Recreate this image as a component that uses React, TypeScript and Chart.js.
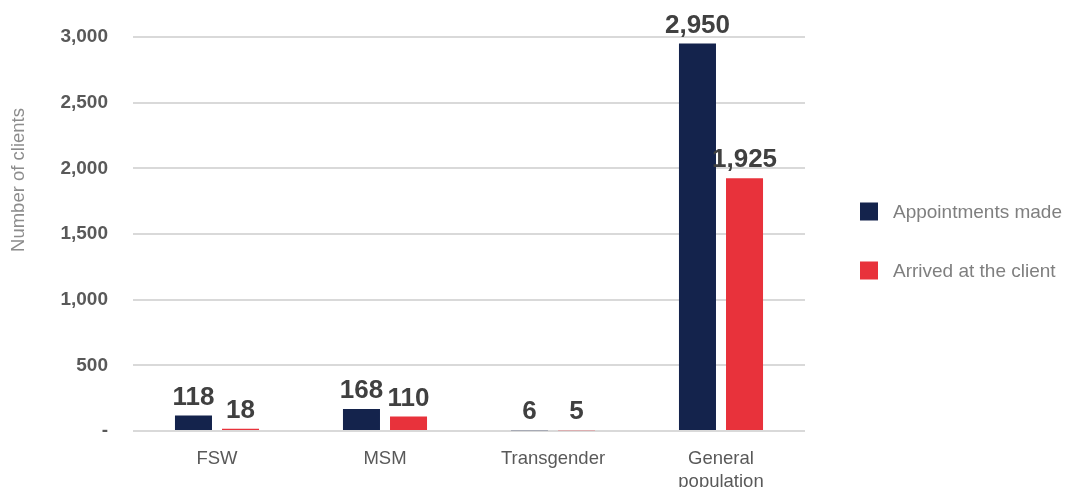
import React, { useEffect, useRef } from "react";
import { Chart, registerables } from "chart.js";

Chart.register(...registerables);

const categories: (string | string[])[] = ["FSW", "MSM", "Transgender", ["General", "population"]];
const appointmentsMade = [118, 168, 6, 2950];
const arrivedAtClient = [18, 110, 5, 1925];
const seriesNames = ["Appointments made", "Arrived at the client"];
const seriesColors = ["#14234C", "#E8323B"];
const yTicks = [0, 500, 1000, 1500, 2000, 2500, 3000];
const yTitle = "Number of clients";

const FONT = "'Liberation Sans', Arial, Helvetica, sans-serif";

const dataLabelPlugin = {
  id: "dataLabels",
  afterDatasetsDraw(chart: any) {
    const ctx = chart.ctx;
    ctx.save();
    ctx.font = `bold 26px ${FONT}`;
    ctx.fillStyle = "#404040";
    ctx.textAlign = "center";
    ctx.textBaseline = "alphabetic";
    chart.data.datasets.forEach((ds: any, di: number) => {
      const meta = chart.getDatasetMeta(di);
      meta.data.forEach((el: any, i: number) => {
        const v = ds.data[i] as number;
        ctx.fillText(v.toLocaleString("en-US"), el.x, el.y - 11);
      });
    });
    ctx.restore();
  },
};

const legendPlugin = {
  id: "sideLegend",
  afterDraw(chart: any) {
    const ctx = chart.ctx;
    const area = chart.chartArea;
    const x = area.right + 55;
    const mid = (area.top + area.bottom) / 2 + 7;
    const spacing = 59;
    ctx.save();
    ctx.font = `19px ${FONT}`;
    ctx.textBaseline = "middle";
    ctx.textAlign = "left";
    chart.data.datasets.forEach((ds: any, i: number) => {
      const cy = mid + (i - (chart.data.datasets.length - 1) / 2) * spacing;
      ctx.fillStyle = ds.backgroundColor;
      ctx.fillRect(x, cy - 9, 18, 18);
      ctx.fillStyle = "#7F7F7F";
      ctx.fillText(ds.label, x + 33, cy + 1);
    });
    ctx.restore();
  },
};

const yTitlePlugin = {
  id: "yTitle",
  afterDraw(chart: any) {
    const ctx = chart.ctx;
    const area = chart.chartArea;
    ctx.save();
    ctx.font = `18.5px ${FONT}`;
    ctx.fillStyle = "#8C8C8C";
    ctx.textAlign = "center";
    ctx.textBaseline = "middle";
    ctx.translate(11, area.top + 143);
    ctx.rotate(-Math.PI / 2);
    ctx.fillText(yTitle, 0, 0);
    ctx.restore();
  },
};

export default function App() {
  const ref = useRef<HTMLCanvasElement | null>(null);

  useEffect(() => {
    if (!ref.current) return;
    const chart = new Chart(ref.current, {
      type: "bar",
      data: {
        labels: categories as any,
        datasets: [
          {
            label: seriesNames[0],
            data: appointmentsMade,
            backgroundColor: seriesColors[0],
            categoryPercentage: 0.56,
            barPercentage: 0.787,
          },
          {
            label: seriesNames[1],
            data: arrivedAtClient,
            backgroundColor: seriesColors[1],
            categoryPercentage: 0.56,
            barPercentage: 0.787,
          },
        ],
      },
      options: {
        responsive: false,
        animation: false,
        layout: { padding: { top: 29, right: 260, left: 0, bottom: 0 } },
        plugins: {
          legend: { display: false },
          tooltip: { enabled: false },
        },
        scales: {
          x: {
            grid: { display: false, drawTicks: false },
            border: { display: false },
            ticks: {
              color: "#595959",
              font: { family: FONT, size: 18.5, lineHeight: 1.24 },
              padding: 16,
              maxRotation: 0,
              autoSkip: false,
            },
            afterFit(scale: any) {
              scale.height = 64;
            },
          },
          y: {
            min: 0,
            max: 3000,
            afterBuildTicks(scale: any) {
              scale.ticks = yTicks.map((v) => ({ value: v }));
            },
            grid: { color: "#D9D9D9", lineWidth: 2, drawTicks: false },
            border: { display: false },
            ticks: {
              color: "#595959",
              font: { family: FONT, size: 19, weight: "bold" },
              padding: 25,
              callback: (v: any) => (Number(v) === 0 ? "-" : Number(v).toLocaleString("en-US")),
            },
            afterFit(scale: any) {
              scale.width = 125;
              scale.paddingTop = 0;
              scale.paddingBottom = 0;
            },
          },
        },
      },
      plugins: [dataLabelPlugin, legendPlugin, yTitlePlugin],
    });
    return () => chart.destroy();
  }, []);

  return (
    <div style={{ width: 1057 }}>
      <canvas
        ref={ref}
        width={1057}
        height={487}
        style={{ display: "block", width: 1057, height: 487, marginBottom: -8 }}
      />
    </div>
  );
}
